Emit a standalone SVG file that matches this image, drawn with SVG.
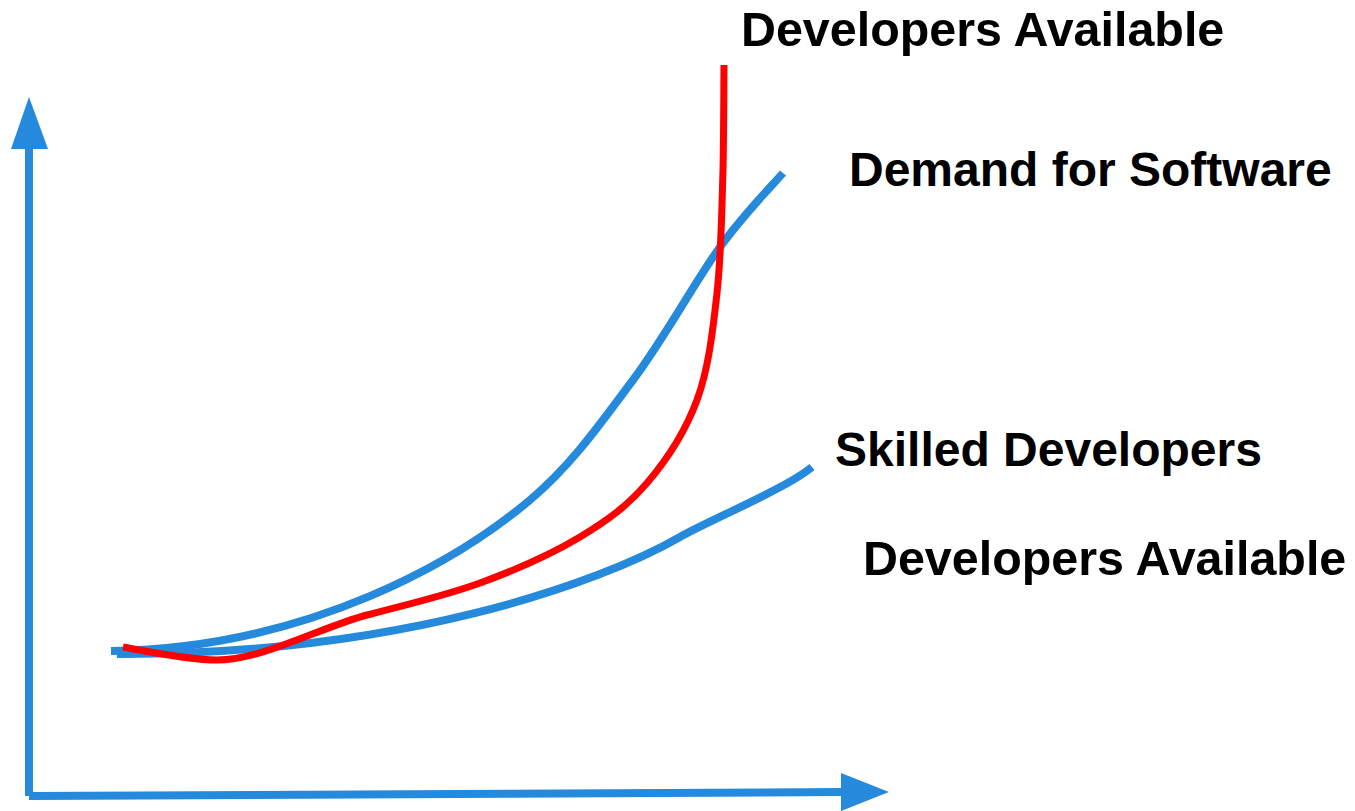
<svg xmlns="http://www.w3.org/2000/svg" width="1355" height="811" viewBox="0 0 1355 811">
<style>
.axis{stroke:#2589dc;stroke-width:8;fill:none}
.head{fill:#2589dc}
.blue{stroke:#2589dc;stroke-width:8;fill:none;stroke-linecap:butt}
.red{stroke:#ff0000;stroke-width:7;fill:none}
.lbl{font-family:"Liberation Sans",Arial,sans-serif;font-weight:bold;font-size:48px;fill:#000}
.wide{font-size:48.4px}
</style>
<rect width="1355" height="811" fill="#fff"/>
<g id="axes">
<line class="axis" x1="29" y1="145" x2="29" y2="796"/>
<polygon class="head" points="29,97 11,149 48,149"/>
<line class="axis" x1="29" y1="796" x2="843" y2="792"/>
<polygon class="head" points="889,792 841,773 841,811"/>
</g>
<g id="connectors">
<path id="demand-curve" class="blue" d="M111,651 C311,648 460,558.8 530,500 C572.2,464.5 601.3,422.2 633,380 C664.7,337.8 695,281.5 720,247 C745,212.5 772.5,185.3 783,173"/>
<path id="skilled-curve" class="blue" d="M117,654 C400,655 600,583 680,537 C710,520 787,488 812,467"/>
<path id="available-curve" class="red" d="M123,647 C150,652 190,660 217,660 C262,660 320,627.5 367,615 C405,605 444.5,596 480,583 C515.5,570 552.2,553.7 580,537 C607.8,520.3 627.5,505.8 647,483 C666.5,460.2 685.3,431.7 697,400 C708.7,368.3 712.7,331.3 717,293 C721.3,254.7 721.8,208 723,170 C723.8,132 723.8,82.5 724,65"/>
</g>
<g id="label-developers-top"><text class="lbl wide" x="741" y="46">Developers Available</text></g>
<g id="label-demand"><text class="lbl" x="849" y="186">Demand for Software</text></g>
<g id="label-skilled"><text class="lbl" x="835" y="466">Skilled Developers</text></g>
<g id="label-developers-bottom"><text class="lbl wide" x="863" y="575">Developers Available</text></g>
</svg>
